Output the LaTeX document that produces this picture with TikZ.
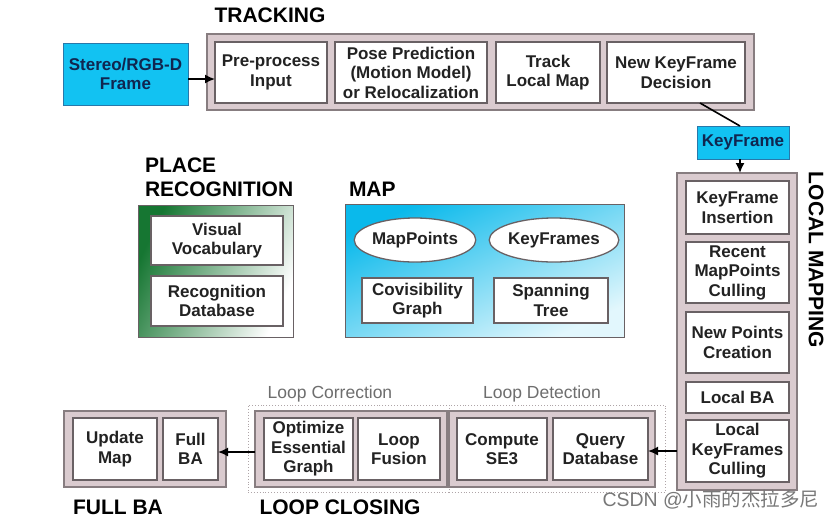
\documentclass[tikz,border=0pt]{standalone}
\usepackage{fontspec}
\setmainfont{Liberation Sans}
\newfontfamily\cjkfont{Noto Sans CJK SC}
\usetikzlibrary{shapes.geometric,arrows.meta,calc}
\definecolor{outerfill}{RGB}{218,203,207}
\definecolor{outerdraw}{RGB}{135,125,128}
\definecolor{innerdraw}{RGB}{105,97,100}
\definecolor{cyanfill}{RGB}{18,194,242}
\definecolor{cyandraw}{RGB}{40,120,170}
\definecolor{navy}{RGB}{16,38,80}
\definecolor{txt}{RGB}{34,34,34}
\definecolor{subgray}{RGB}{110,110,110}
\definecolor{dotgray}{RGB}{175,165,168}
\definecolor{pgreen}{RGB}{22,118,50}
\definecolor{mapcyan}{RGB}{10,185,235}
\definecolor{wmgray}{RGB}{120,120,120}
\begin{document}
\begin{tikzpicture}[x=1pt,y=-1pt,
  every node/.style={inner sep=0pt, outer sep=0pt, font=\bfseries\fontsize{17}{19.5}\selectfont, text=txt, align=center},
  group/.style={draw=outerdraw, fill=outerfill, line width=1.5pt},
  stage/.style={draw=innerdraw, fill=white, line width=1.3pt},
  cyanbox/.style={draw=cyandraw, fill=cyanfill, line width=1pt, text=navy},
  dotbox/.style={draw=dotgray, dotted, line width=0.9pt},
  title/.style={font=\bfseries\fontsize{21}{24}\selectfont, text=black},
  sublabel/.style={font=\fontsize{17.5}{20}\selectfont, text=subgray},
  arr/.style={-{Latex[length=10pt,width=9pt]}, line width=1.6pt, draw=black}
]
\useasboundingbox (0,0) rectangle (832,520);
\fill[white] (0,0) rectangle (832,520);

% ---------- TRACKING ----------
\node[title] (ttrack) at (270,15) {TRACKING};
\node[cyanbox, minimum width=125pt, minimum height=62pt] (stereo) at (125.5,74) {Stereo/RGB-D\\Frame};
\node[group, minimum width=547pt, minimum height=76pt] (track) at (480.5,72) {};
\node[stage, minimum width=112pt, minimum height=61pt] (pre) at (271,72.5) {Pre-process\\Input};
\node[stage, minimum width=152pt, minimum height=61pt] (pose) at (411,72.5) {Pose Prediction\\(Motion Model)\\or Relocalization};
\node[stage, minimum width=104pt, minimum height=61pt] (tlm) at (548,72.5) {Track\\Local Map};
\node[stage, minimum width=138pt, minimum height=61pt] (nkd) at (676,72.5) {New KeyFrame\\Decision};
\draw[arr] ([yshift=-5pt]stereo.east) -- ([yshift=-5pt]stereo.east -| pre.west);

% ---------- KeyFrame ----------
\node[cyanbox, minimum width=92pt, minimum height=33pt] (kf) at (743,142.5) {KeyFrame};
\draw[line width=1.6pt] ([xshift=24pt]nkd.south) -- ([xshift=-3pt]kf.north);

% ---------- LOCAL MAPPING ----------
\node[group, minimum width=120pt, minimum height=317pt] (lm) at (737,331.5) {};
\draw[arr] ([xshift=-3pt]kf.south) -- ([xshift=-3pt]kf.south |- lm.north);
\node[stage, minimum width=103pt, minimum height=53pt] (kfi) at (737.5,207.5) {KeyFrame\\Insertion};
\node[stage, minimum width=103pt, minimum height=61pt] (rmc) at (737.5,272.5) {Recent\\MapPoints\\Culling};
\node[stage, minimum width=103pt, minimum height=61pt] (npc) at (737.5,342.5) {New Points\\Creation};
\node[stage, minimum width=103pt, minimum height=31pt] (lba) at (737.5,397.5) {Local BA};
\node[stage, minimum width=103pt, minimum height=62pt] (lkc) at (737.5,451) {Local\\KeyFrames\\Culling};
\node[title, rotate=-90] (tlocal) at (816,260) {LOCAL MAPPING};

% ---------- PLACE RECOGNITION ----------
\node[title, anchor=west, align=left] (tplace) at (145,177) {PLACE\\RECOGNITION};
\node[draw=innerdraw, line width=1pt, top color=pgreen, middle color=pgreen!65!white, bottom color=white, shading angle=65, minimum width=155pt, minimum height=132pt] (pr) at (215.5,271) {};
\node[stage, minimum width=132pt, minimum height=49pt] (vv) at (217,240.5) {Visual\\Vocabulary};
\node[stage, minimum width=132pt, minimum height=50pt] (rdb) at (217,301) {Recognition\\Database};

% ---------- MAP ----------
\node[title, anchor=west] (tmap) at (349,189) {MAP};
\node[draw=innerdraw, line width=1pt, top color=mapcyan, middle color=mapcyan!90!white, bottom color=mapcyan!12!white, shading angle=25, minimum width=279pt, minimum height=133pt] (map) at (484.5,270.5) {};
\node[ellipse, stage, minimum width=120pt, minimum height=44pt] (mp) at (415,240) {MapPoints};
\node[ellipse, stage, minimum width=122pt, minimum height=44pt] (kfs) at (554,240) {KeyFrames};
\node[stage, minimum width=111pt, minimum height=45pt] (cg) at (417.5,300.5) {Covisibility\\Graph};
\node[stage, minimum width=114pt, minimum height=45pt] (st) at (551,300.5) {Spanning\\Tree};

% ---------- LOOP CLOSING ----------
\node[dotbox, minimum width=201pt, minimum height=87pt] (lcd) at (348.5,448.5) {};
\node[dotbox, minimum width=216pt, minimum height=87pt] (ldd) at (557,448.5) {};
\node[group, minimum width=192pt, minimum height=76pt] (lcs) at (351,449) {};
\node[group, minimum width=206pt, minimum height=76pt] (lds) at (552,449) {};
\node[stage, minimum width=89pt, minimum height=62pt] (oeg) at (308.5,449) {Optimize\\Essential\\Graph};
\node[stage, minimum width=82pt, minimum height=62pt] (lf) at (399,449) {Loop\\Fusion};
\node[stage, minimum width=90pt, minimum height=62pt] (cse) at (502,449) {Compute\\SE3};
\node[stage, minimum width=95pt, minimum height=62pt] (qd) at (600.5,449) {Query\\Database};
\node[sublabel] (lcor) at (330,394) {Loop Correction};
\node[sublabel] (ldet) at (542,394) {Loop Detection};
\node[title] (tloop) at (340,507) {LOOP CLOSING};

% ---------- FULL BA ----------
\node[group, minimum width=162pt, minimum height=76pt] (fba) at (145,449) {};
\node[stage, minimum width=84pt, minimum height=62pt] (um) at (115,449) {Update\\Map};
\node[stage, minimum width=55pt, minimum height=62pt] (fbi) at (190.5,449) {Full\\BA};
\node[title] (tfull) at (118,507) {FULL BA};

% ---------- connectors ----------
\draw[arr] (lkc.west -| lm.west) -- (lkc.west -| qd.east);
\draw[arr] ([yshift=-3pt]lcs.west) -- ([yshift=-3pt]lcs.west -| fbi.east);

% ---------- watermark ----------
\node[font=\fontsize{19.5}{24}\selectfont, text=wmgray] (wm) at (711,500) {CSDN @{\cjkfont 小雨的杰拉多尼}};
\end{tikzpicture}
\end{document}
